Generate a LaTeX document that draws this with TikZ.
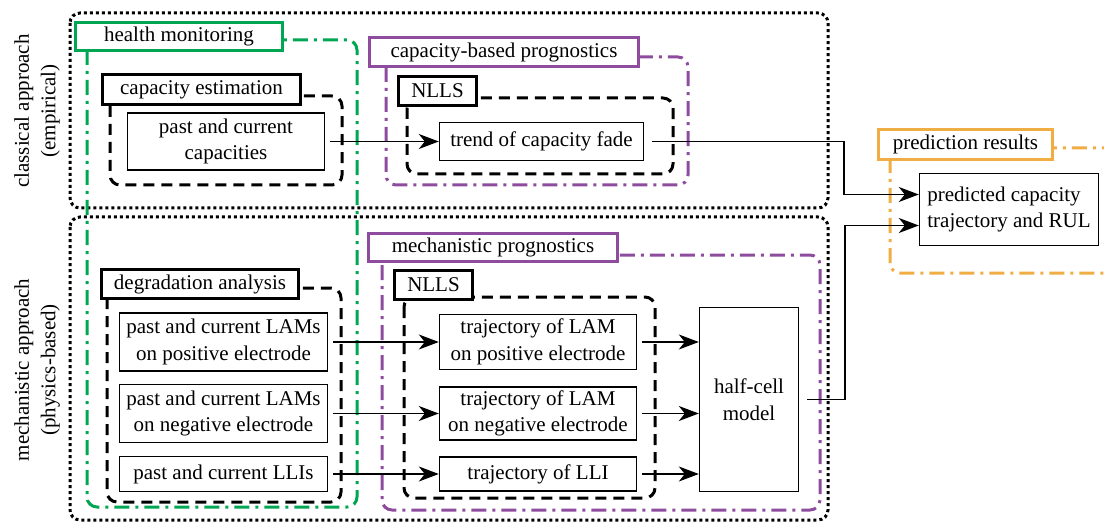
\documentclass[tikz,border=0pt]{standalone}
\usepackage{fontspec}
\setmainfont{Liberation Serif}
\newfontfamily\diagfont{Liberation Serif}
\usetikzlibrary{arrows.meta}
\definecolor{hmgreen}{RGB}{0,166,81}
\definecolor{progpurple}{RGB}{142,76,158}
\definecolor{resorange}{RGB}{240,173,68}
\begin{document}
\begin{tikzpicture}[x=1pt,y=1pt]
\tikzstyle{every node}+=[inner sep=0pt,font=\diagfont\fontsize{21}{26.5}\selectfont,align=center]
\tikzstyle{lbl}=[draw,line width=3.2pt,fill=white,text=black]
\tikzstyle{box}=[draw,line width=1.4pt,fill=white]
\tikzstyle{grp}=[rounded corners=10pt,line width=3pt]
\tikzstyle{dotbox}=[grp,dash pattern=on 3pt off 3pt]
\tikzstyle{dashbox}=[grp,dash pattern=on 11pt off 7pt]
\tikzstyle{dotdash}=[grp,dash pattern=on 15pt off 6pt on 3pt off 6pt]
\tikzstyle{arr}=[line width=1.6pt,-{Stealth[length=20pt,width=15pt,inset=6pt]}]
\useasboundingbox (0,0) rectangle (1104,-524);
\clip (0,0) rectangle (1104,-524);
\node [rotate=90] (cls) at (37,-111) {classical approach\\(empirical)};
\node [rotate=90] (mech) at (37,-370) {mechanistic approach\\(physics-based)};
\draw [black,dotbox] (70,-13) rectangle (828,-208);
\draw [black,dotbox] (70,-217) rectangle (828,-520);
\draw [hmgreen,dotdash] (87,-40) rectangle (357,-507);
\draw [black,dashbox] (110,-96) rectangle (342,-185);
\draw [progpurple,dotdash] (386,-57) rectangle (688,-185);
\draw [black,dashbox] (407,-98) rectangle (673,-174);
\draw [resorange,dotdash] (890,-148) rectangle (1130,-273);
\draw [progpurple,dotdash] (382,-255) rectangle (820,-510);
\draw [black,dashbox] (107,-288) rectangle (341,-502);
\draw [black,dashbox] (404,-297) rectangle (655,-498);
\node [lbl,draw=hmgreen,minimum width=207pt,minimum height=28pt] (hm) at (179,-36.5) {health monitoring};
\node [lbl,draw=black,minimum width=198pt,minimum height=30pt] (ce) at (201.5,-89.5) {capacity estimation};
\node [lbl,draw=progpurple,minimum width=269pt,minimum height=29pt] (cbp) at (504,-52) {capacity-based prognostics};
\node [lbl,draw=black,minimum width=78pt,minimum height=29pt] (nlls1) at (437.5,-91) {NLLS};
\node [lbl,draw=resorange,minimum width=174pt,minimum height=30pt] (pr) at (965.5,-144.5) {prediction results};
\node [lbl,draw=progpurple,minimum width=249pt,minimum height=28pt] (mp) at (493,-247.5) {mechanistic prognostics};
\node [lbl,draw=black,minimum width=78pt,minimum height=29pt] (nlls2) at (433.5,-285) {NLLS};
\node [lbl,draw=black,minimum width=197pt,minimum height=29pt] (da) at (200,-284) {degradation analysis};
\node [box,minimum width=197pt,minimum height=57pt] (pcc) at (226,-141.5) {past and current\\capacities};
\node [box,minimum width=204pt,minimum height=38pt] (trend) at (541.5,-141.5) {trend of capacity fade};
\node [box,minimum width=179pt,minimum height=72pt,align=left] (pred) at (1009,-209.5) {predicted capacity\\trajectory and RUL};
\node [box,minimum width=208pt,minimum height=58pt] (pos) at (223.5,-342) {past and current LAMs\\on positive electrode};
\node [box,minimum width=208pt,minimum height=58pt] (neg) at (223.5,-413.5) {past and current LAMs\\on negative electrode};
\node [box,minimum width=208pt,minimum height=35pt] (lli) at (223.5,-474) {past and current LLIs};
\node [box,minimum width=197pt,minimum height=55pt] (tpos) at (538,-342) {trajectory of LAM\\on positive electrode};
\node [box,minimum width=197pt,minimum height=53pt] (tneg) at (538,-413.5) {trajectory of LAM\\on negative electrode};
\node [box,minimum width=197pt,minimum height=34pt] (tlli) at (538,-474) {trajectory of LLI};
\node [box,minimum width=99pt,minimum height=184pt] (hc) at (749,-399.5) {half-cell\\model};
\coordinate (j1) at (844,-141.5);
\coordinate (j2) at (845,-399.5);
\draw [arr,shorten <=5pt] (pcc) -- (trend);
\draw [arr,shorten <=8pt] (trend) -- (j1) |- ([yshift=15pt]pred.west);
\draw [arr,shorten <=8pt] (hc) -- (j2) |- ([yshift=-16pt]pred.west);
\draw [arr,shorten <=5pt] (pos) -- (tpos);
\draw [arr,shorten <=5pt] (neg) -- (tneg);
\draw [arr,shorten <=5pt] (lli) -- (tlli);
\draw [arr,shorten <=5pt] (tpos.east) -- (tpos.east -| hc.west);
\draw [arr,shorten <=5pt] (tneg.east) -- (tneg.east -| hc.west);
\draw [arr,shorten <=5pt] (tlli.east) -- (tlli.east -| hc.west);
\end{tikzpicture}
\end{document}
